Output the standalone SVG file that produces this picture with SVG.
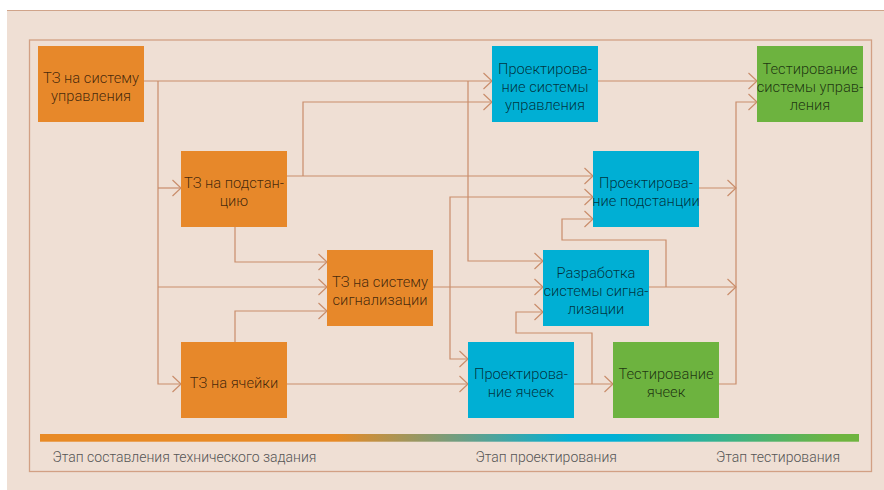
<svg xmlns="http://www.w3.org/2000/svg" width="884" height="490" viewBox="0 0 884 490">
<style>
.box text{font-family:Roboto,"Liberation Sans",sans-serif;font-weight:300;font-size:14.7px;fill:#000;fill-opacity:0.72;text-anchor:middle}
.or{fill:#E7882A}.bl{fill:#00AFD4}.gr{fill:#6DB33F}
.c path{fill:none;stroke:#C98D6B;stroke-width:1.2}
.lbl{font-family:Roboto,"Liberation Sans",sans-serif;font-weight:300;font-size:14px;fill:#555}
</style>
<defs>
<marker id="ar" markerUnits="userSpaceOnUse" markerWidth="12" markerHeight="20" refX="9.5" refY="9" orient="auto">
<path d="M1,1 L9.5,9 L1,17" fill="none" stroke="#C98D6B" stroke-width="1.2"/>
</marker>
<linearGradient id="bar" x1="40" y1="0" x2="859" y2="0" gradientUnits="userSpaceOnUse">
<stop offset="0" stop-color="#E88A25"/>
<stop offset="0.36" stop-color="#E88A25"/>
<stop offset="0.65" stop-color="#00B0D6"/>
<stop offset="0.70" stop-color="#00B0D6"/>
<stop offset="0.97" stop-color="#6EB43F"/>
<stop offset="1" stop-color="#6EB43F"/>
</linearGradient>
</defs>
<rect x="0" y="0" width="884" height="490" fill="#fff"/>
<rect x="7" y="10" width="877" height="480" fill="#EFDFD4"/>
<line x1="7" y1="10.5" x2="884" y2="10.5" stroke="#D0A48A" stroke-width="1.2"/>
<rect x="29.5" y="40" width="842" height="431.5" fill="none" stroke="#D2A084" stroke-width="1.3"/>
<g class="c" id="connectors">
<path d="M144,81 H492" marker-end="url(#ar)"/>
<path d="M158,81 V384 H181" marker-end="url(#ar)"/>
<path d="M158,188 H181" marker-end="url(#ar)"/>
<path d="M158,287 H327" marker-end="url(#ar)"/>
<path d="M468,81 V261 H543" marker-end="url(#ar)"/>
<path d="M287,176 H593" marker-end="url(#ar)"/>
<path d="M303,176 V102 H492" marker-end="url(#ar)"/>
<path d="M235,227 V262 H327" marker-end="url(#ar)"/>
<path d="M235,342 V311 H327" marker-end="url(#ar)"/>
<path d="M433,287 H543" marker-end="url(#ar)"/>
<path d="M450,287 V197 H593" marker-end="url(#ar)"/>
<path d="M450,287 V359 H468" marker-end="url(#ar)"/>
<path d="M287,384 H468" marker-end="url(#ar)"/>
<path d="M649,287 H736" marker-end="url(#ar)"/>
<path d="M666,287 V240 H562 V219 H593" marker-end="url(#ar)"/>
<path d="M699,188 H736" marker-end="url(#ar)"/>
<path d="M719,384 H736 V102 H757" marker-end="url(#ar)"/>
<path d="M598,81 H757" marker-end="url(#ar)"/>
<path d="M574,384 H613" marker-end="url(#ar)"/>
<path d="M592,384 V333 H516 V312 H543" marker-end="url(#ar)"/>
</g>
<g class="box" id="tz-su"><rect class="or" x="38" y="46" width="106" height="76"/><text x="91" y="83">ТЗ на систему</text><text x="91" y="101">управления</text></g>
<g class="box" id="tz-p"><rect class="or" x="181" y="151" width="106" height="76"/><text x="234" y="188">ТЗ на подстан-</text><text x="234" y="206">цию</text></g>
<g class="box" id="p-su"><rect class="bl" x="492" y="46" width="106" height="76"/><text x="545" y="74">Проектирова-</text><text x="545" y="92">ние системы</text><text x="545" y="110">управления</text></g>
<g class="box" id="t-su"><rect class="gr" x="757" y="46" width="106" height="76"/><text x="810" y="74">Тестирование</text><text x="810" y="92">системы управ-</text><text x="810" y="110">ления</text></g>
<g class="box" id="p-p"><rect class="bl" x="593" y="151" width="106" height="76"/><text x="646" y="188">Проектирова-</text><text x="646" y="206">ние подстанции</text></g>
<g class="box" id="tz-ss"><rect class="or" x="327" y="250" width="106" height="76"/><text x="380" y="287">ТЗ на систему</text><text x="380" y="305">сигнализации</text></g>
<g class="box" id="r-ss"><rect class="bl" x="543" y="250" width="106" height="76"/><text x="596" y="278">Разработка</text><text x="596" y="296">системы сигна-</text><text x="596" y="314">лизации</text></g>
<g class="box" id="tz-ya"><rect class="or" x="181" y="342" width="106" height="76"/><text x="234" y="387.5">ТЗ на ячейки</text></g>
<g class="box" id="p-ya"><rect class="bl" x="468" y="342" width="106" height="76"/><text x="521" y="379">Проектирова-</text><text x="521" y="397">ние ячеек</text></g>
<g class="box" id="t-ya"><rect class="gr" x="613" y="342" width="106" height="76"/><text x="666" y="379">Тестирование</text><text x="666" y="397">ячеек</text></g>
<g id="stages">
<rect x="40" y="434" width="819" height="7.7" fill="url(#bar)"/>
<text class="lbl" x="52.5" y="462">Этап составления технического задания</text>
<text class="lbl" x="475.5" y="462">Этап проектирования</text>
<text class="lbl" x="716" y="462">Этап тестирования</text>
</g>
</svg>
